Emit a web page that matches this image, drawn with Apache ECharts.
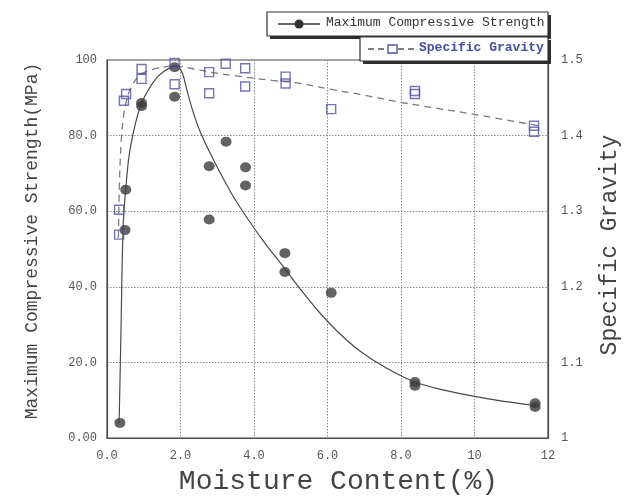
<!DOCTYPE html>
<html>
<head>
<meta charset="utf-8">
<script src="https://cdn.jsdelivr.net/npm/echarts@6/dist/echarts.min.js"></script>
<style>
  html, body { margin: 0; padding: 0; background: #ffffff; }
  #chart { width: 639px; height: 501px; }
</style>
</head>
<body>
<div id="chart"></div>
<script>
// Measured compressive strength (MPa) against moisture content (%)
const strengthMoisture = [0.35, 0.49, 0.51, 0.94, 0.94, 1.84, 1.84, 2.78, 2.78, 3.24, 3.77, 3.77, 4.84, 4.84, 6.10, 8.38, 8.38, 11.65, 11.65];
const strengthValues   = [4.0, 55.0, 65.7, 88.6, 87.8, 90.3, 98.1, 71.9, 57.8, 78.4, 71.6, 66.8, 48.9, 43.9, 38.4, 14.8, 13.8, 9.2, 8.2];

// Measured specific gravity against moisture content (%)
const gravityMoisture = [0.33, 0.33, 0.46, 0.52, 0.94, 0.94, 1.84, 1.84, 2.78, 2.78, 3.23, 3.76, 3.76, 4.86, 4.86, 6.10, 8.38, 8.38, 11.62, 11.62];
const gravityValues   = [1.302, 1.269, 1.446, 1.455, 1.475, 1.488, 1.496, 1.468, 1.484, 1.456, 1.495, 1.489, 1.465, 1.478, 1.469, 1.435, 1.459, 1.455, 1.413, 1.405];

// Fitted trend of strength
const strengthFitMoisture = [0.33, 0.38, 0.44, 0.52, 0.63, 0.9, 1.25, 1.55, 1.9, 2.05, 2.17, 2.35, 2.58, 2.98, 3.4, 3.8, 4.3, 4.8, 5.25, 5.8, 6.3, 6.88, 7.6, 8.38, 9.2, 10.0, 10.8, 11.65];
const strengthFitValues   = [4, 28, 56, 67, 76.5, 87.5, 94, 97, 98.4, 96.5, 92.2, 86, 80, 72, 64.5, 58.4, 51.5, 45.3, 39.5, 33.0, 27.9, 23.0, 18.5, 14.8, 12.6, 11.0, 9.7, 8.6];

// Fitted trend of specific gravity
const gravityFitMoisture = [0.31, 0.34, 0.39, 0.44, 0.5, 0.63, 0.9, 1.35, 1.8, 2.5, 2.8, 3.5, 4.5, 5.25, 6.0, 6.88, 8.0, 10.0, 11.75];
const gravityFitValues   = [1.265, 1.34, 1.395, 1.422, 1.44, 1.461, 1.48, 1.489, 1.492, 1.487, 1.484, 1.479, 1.473, 1.469, 1.462, 1.4545, 1.444, 1.428, 1.413];

// Tick labels
const xTickLabels = ['0.0', '2.0', '4.0', '6.0', '8.0', '10', '12'];
const strengthTickLabels = ['0.00', '20.0', '40.0', '60.0', '80.0', '100'];
const gravityTickLabels = ['1', '1.1', '1.2', '1.3', '1.4', '1.5'];

const seriesNames = ['Maximum Compressive Strength', 'Specific Gravity'];

const pairs = (xs, ys) => xs.map((x, i) => [x, ys[i]]);

const MONO = '"Liberation Mono", "DejaVu Sans Mono", monospace';
const FRAME = '#4a4a4a';
const GRIDLINE = { show: true, showMinLine: false, showMaxLine: false, lineStyle: { color: '#8a8a8a', type: [1.5, 1.5], width: 1 } };
const POINT_COLOR = '#3c3c3c';
const SQUARE_COLOR = '#5252a6';

// A framed legend box with a solid drop shadow on its lower right
function legendBox(x, y, w, h) {
  return [
    { type: 'rect', z: 10, shape: { x: x + 3, y: y + 3, width: w, height: h }, style: { fill: '#2e2e2e' } },
    { type: 'rect', z: 10, shape: { x: x, y: y, width: w, height: h }, style: { fill: '#ffffff', stroke: '#333', lineWidth: 1.2 } }
  ];
}

const chart = echarts.init(document.getElementById('chart'), null, { renderer: 'canvas' });

chart.setOption({
  backgroundColor: '#ffffff',
  animation: false,
  grid: {
    left: 107, right: 91, top: 60, bottom: 56,
    show: true, borderColor: FRAME, borderWidth: 1.2, backgroundColor: 'transparent'
  },
  xAxis: {
    type: 'value', min: 0, max: 12, interval: 2,
    axisLine: { show: true, lineStyle: { color: FRAME, width: 1.2 } },
    axisTick: { show: false },
    splitLine: GRIDLINE,
    axisLabel: {
      margin: 12, color: '#555', fontFamily: MONO, fontSize: 12,
      formatter: (v, i) => xTickLabels[i]
    },
    name: 'Moisture Content(%)',
    nameLocation: 'middle', nameGap: 30,
    nameTextStyle: { fontFamily: MONO, fontSize: 28, color: '#444', padding: [0, 0, 0, 22], verticalAlign: 'top' }
  },
  yAxis: [
    {
      type: 'value', min: 0, max: 100, interval: 20,
      axisLine: { show: true, lineStyle: { color: FRAME, width: 1.2 } },
      axisTick: { show: false },
      splitLine: GRIDLINE,
      axisLabel: {
        margin: 10, color: '#555', fontFamily: MONO, fontSize: 12,
        formatter: (v, i) => strengthTickLabels[i]
      },
      name: 'Maximum Compressive Strength(MPa)',
      nameLocation: 'middle', nameGap: 66, nameRotate: 90,
      nameTextStyle: { fontFamily: MONO, fontSize: 18, color: '#444', padding: [0, 0, 0, 16] }
    },
    {
      type: 'value', min: 1, max: 1.5, interval: 0.1,
      position: 'right',
      axisLine: { show: true, lineStyle: { color: FRAME, width: 1.2 } },
      axisTick: { show: false },
      splitLine: { show: false },
      axisLabel: {
        margin: 13, color: '#555', fontFamily: MONO, fontSize: 12,
        formatter: (v, i) => gravityTickLabels[i]
      },
      name: 'Specific Gravity',
      nameLocation: 'middle', nameGap: 50, nameRotate: 90,
      nameTextStyle: { fontFamily: MONO, fontSize: 23, color: '#444', padding: [0, 0, 0, 8] }
    }
  ],
  series: [
    {
      name: seriesNames[0] + ' trend',
      type: 'line', yAxisIndex: 0,
      data: pairs(strengthFitMoisture, strengthFitValues),
      smooth: 0.35, showSymbol: false, symbol: 'none',
      lineStyle: { color: '#4a4a4a', width: 1.2 },
      z: 2
    },
    {
      name: seriesNames[1] + ' trend',
      type: 'line', yAxisIndex: 1,
      data: pairs(gravityFitMoisture, gravityFitValues),
      smooth: 0.35, showSymbol: false, symbol: 'none',
      lineStyle: { color: '#7a7a7a', width: 1.3, type: [7, 5] },
      z: 2
    },
    {
      name: seriesNames[0],
      type: 'scatter', yAxisIndex: 0,
      data: pairs(strengthMoisture, strengthValues),
      symbol: 'circle', symbolSize: [11, 10],
      itemStyle: { color: POINT_COLOR },
      z: 3
    },
    {
      name: seriesNames[1],
      type: 'scatter', yAxisIndex: 1,
      data: pairs(gravityMoisture, gravityValues),
      symbol: 'rect', symbolSize: 9,
      itemStyle: { color: 'rgba(255,255,255,0)', borderColor: SQUARE_COLOR, borderWidth: 1.4 },
      z: 4
    }
  ],
  graphic: [
    // legend entry: strength
    ...legendBox(267, 12, 281, 24),
    {
      type: 'line', z: 11,
      shape: { x1: 278, y1: 24, x2: 320, y2: 24 },
      style: { stroke: '#333', lineWidth: 1.3 }
    },
    {
      type: 'circle', z: 11,
      shape: { cx: 299, cy: 24, r: 4.5 },
      style: { fill: '#333' }
    },
    {
      type: 'text', left: 326, top: 16, z: 11,
      style: { text: seriesNames[0], fill: '#333', font: '13px ' + MONO }
    },
    // legend entry: specific gravity
    ...legendBox(360, 37, 188, 24),
    {
      type: 'line', z: 11,
      shape: { x1: 368, y1: 49, x2: 414, y2: 49 },
      style: { stroke: '#555', lineWidth: 1.3, lineDash: [6, 4] }
    },
    {
      type: 'rect', z: 12,
      shape: { x: 388, y: 45, width: 9, height: 8 },
      style: { fill: '#fff', stroke: SQUARE_COLOR, lineWidth: 1.4 }
    },
    {
      type: 'text', left: 419, top: 41, z: 11,
      style: { text: seriesNames[1], fill: '#4a4aa0', font: 'bold 13px ' + MONO }
    }
  ]
});
</script>
</body>
</html>
